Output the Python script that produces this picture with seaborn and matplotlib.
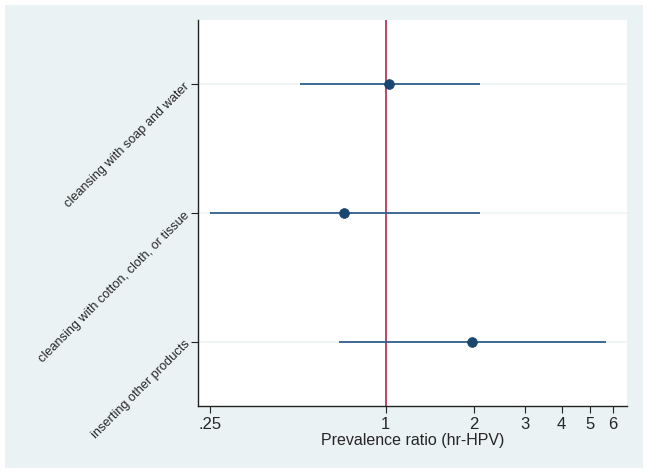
import matplotlib
matplotlib.use("Agg")
import matplotlib.pyplot as plt
import matplotlib.ticker as mticker
from matplotlib.patches import Rectangle
import pandas as pd
import seaborn as sns

# values
categories = ["cleansing with soap and water",
              "cleansing with cotton, cloth, or tissue",
              "inserting other products"]
ratio = [1.03, 0.72, 1.98]
ci_low = [0.51, 0.25, 0.69]
ci_high = [2.10, 2.10, 5.65]
tick_values = [0.25, 1, 2, 3, 4, 5, 6]
tick_labels = [".25", "1", "2", "3", "4", "5", "6"]

df = pd.DataFrame({"category": categories, "ratio": ratio,
                   "low": ci_low, "high": ci_high})
df["pos"] = range(1, len(df) + 1)

sns.set_style("white")
plt.rcParams['font.family'] = ['Liberation Sans', 'DejaVu Sans']

fig = plt.figure(figsize=(6.48, 4.74), dpi=100)
fig.patch.set_facecolor("white")
# Stata-like graph region, drawn behind the axes
fig.add_artist(Rectangle((5 / 648, 6 / 474), 638 / 648, 463 / 474,
                         transform=fig.transFigure, facecolor="#EAF2F3",
                         edgecolor="none", zorder=-5))
ax = fig.add_axes([198 / 648, 68 / 474, 429 / 648, 386 / 474])
ax.set_facecolor("white")

ax.set_xscale("log")
ax.set_xlim(0.228, 6.69)
ax.set_ylim(3.5, 0.5)

# faint horizontal grid at each row
for p in df["pos"]:
    ax.axhline(p, color="#EEF4F5", lw=1.2, zorder=1)

ax.axvline(1, color="#B0294E", lw=1.2, zorder=2)
ax.hlines(df["pos"], df["low"], df["high"], color="#2F5F8E", lw=1.3, zorder=3)
sns.scatterplot(data=df, x="ratio", y="pos", ax=ax, color="#1A476F",
                s=50, edgecolor="#1A476F", linewidth=0.5, zorder=4, legend=False)

ax.set_xticks(tick_values)
ax.set_xticklabels(tick_labels)
ax.xaxis.set_minor_locator(mticker.NullLocator())
ax.set_yticks(df["pos"])
ax.set_yticklabels(df["category"], rotation=45, ha="right",
                   rotation_mode="anchor")
ax.tick_params(axis="both", which="major", length=5, width=0.8,
               color="#222222", pad=3, bottom=True, left=True)
ax.tick_params(axis="x", labelsize=12)
ax.tick_params(axis="y", labelsize=9.2)
ax.set_xlabel("Prevalence ratio (hr-HPV)", fontsize=11.5, labelpad=1)
ax.set_ylabel("")

for side in ["top", "right"]:
    ax.spines[side].set_visible(False)
for side in ["left", "bottom"]:
    ax.spines[side].set_color("#222222")
    ax.spines[side].set_linewidth(1.0)

fig.savefig("out.png", dpi=100)
